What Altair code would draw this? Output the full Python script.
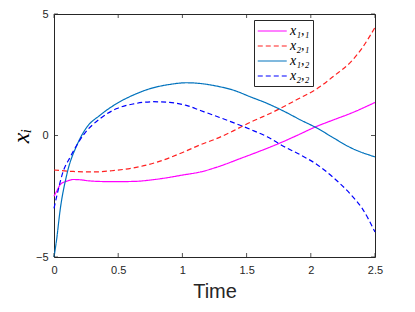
import altair as alt
import pandas as pd

# ---- data ----
series_names = ["x₁,₁", "x₂,₁", "x₁,₂", "x₂,₂"]
series_colors = ["#ff00ff", "#ff2020", "#0072bd", "#0000ff"]
series_dash = [[1, 0], [5, 3], [1, 0], [5, 3]]

t_11 = [0, 0.03, 0.05, 0.1, 0.15, 0.2, 0.28, 0.45, 0.62, 0.8, 1.01, 1.14, 1.27, 1.45, 1.6, 1.76, 1.9, 2.03, 2.18, 2.31, 2.5]
v_11 = [-2.5, -2.2, -2.01, -1.88, -1.81, -1.82, -1.87, -1.9, -1.89, -1.8, -1.62, -1.5, -1.3, -0.95, -0.65, -0.31, 0.02, 0.34, 0.65, 0.91, 1.36]

t_21 = [0, 0.15, 0.31, 0.45, 0.62, 0.8, 1.01, 1.14, 1.27, 1.4, 1.53, 1.66, 1.76, 1.9, 2.05, 2.18, 2.31, 2.4, 2.5]
v_21 = [-1.42, -1.48, -1.5, -1.45, -1.33, -1.1, -0.68, -0.38, -0.12, 0.2, 0.55, 0.85, 1.11, 1.5, 1.93, 2.45, 3.02, 3.6, 4.45]

t_12 = [0, 0.02, 0.047, 0.1, 0.18, 0.25, 0.36, 0.49, 0.62, 0.75, 0.9, 1.03, 1.14, 1.27, 1.4, 1.53, 1.66, 1.79, 1.92, 2.05, 2.18, 2.31, 2.5]
v_12 = [-5, -4.3, -3.1, -1.6, -0.38, 0.3, 0.84, 1.32, 1.67, 1.93, 2.1, 2.17, 2.14, 2.03, 1.86, 1.59, 1.32, 1.0, 0.64, 0.3, -0.11, -0.5, -0.88]

t_22 = [0, 0.03, 0.07, 0.125, 0.23, 0.36, 0.49, 0.62, 0.77, 0.9, 1.03, 1.14, 1.27, 1.46, 1.53, 1.66, 1.79, 1.92, 2.05, 2.18, 2.31, 2.4, 2.5]
v_22 = [-3.0, -2.3, -1.5, -0.9, 0.03, 0.7, 1.11, 1.3, 1.39, 1.36, 1.24, 1.03, 0.78, 0.4, 0.25, -0.05, -0.45, -0.8, -1.2, -1.75, -2.42, -3.0, -3.97]

x_ticks = [0, 0.5, 1, 1.5, 2, 2.5]
y_ticks = [-5, 0, 5]

rows = []
for name, ts, vs in zip(series_names, [t_11, t_21, t_12, t_22], [v_11, v_21, v_12, v_22]):
    for t, v in zip(ts, vs):
        rows.append({"series": name, "t": t, "v": v})
df = pd.DataFrame(rows)

W, H = 321, 243
axis_color = "#262626"

xscale = alt.Scale(domain=[0, 2.5], nice=False, zero=False)
yscale = alt.Scale(domain=[-5, 5], nice=False, zero=False)

x_axis = alt.Axis(values=x_ticks, title="Time", ticks=False, domain=False,
                  labelFont="Liberation Sans", labelFontSize=11, labelColor=axis_color,
                  labelPadding=7, titleFont="Liberation Sans", titleFontSize=20,
                  titleFontWeight="normal", titleColor=axis_color, titlePadding=6,
                  grid=False, labelFlush=False, format="~g")
y_axis = alt.Axis(values=y_ticks, title="xᵢ", ticks=False, domain=False,
                  labelFont="Liberation Sans", labelFontSize=11, labelColor=axis_color,
                  labelPadding=6, titleFont="Liberation Serif", titleFontSize=24,
                  titleFontStyle="italic", titleFontWeight="normal", titleColor="#000000",
                  titlePadding=2, grid=False, labelFlush=False, format="~g")

legend = alt.Legend(orient="none", legendX=200, legendY=6, title=None,
                    symbolType="M-1,0H3", symbolSize=210, symbolStrokeWidth=1.2,
                    labelFont="Liberation Serif", labelFontStyle="italic",
                    labelFontSize=14, labelColor="#000000",
                    strokeColor=axis_color, fillColor="white", padding=3,
                    rowPadding=0, labelOffset=17)

lines = alt.Chart(df).mark_line(strokeWidth=1.2, interpolate="monotone").encode(
    x=alt.X("t:Q", scale=xscale, axis=x_axis, title="Time"),
    y=alt.Y("v:Q", scale=yscale, axis=y_axis, title="xᵢ"),
    color=alt.Color("series:N", scale=alt.Scale(domain=series_names, range=series_colors),
                    sort=series_names, legend=legend),
    strokeDash=alt.StrokeDash("series:N", scale=alt.Scale(domain=series_names, range=series_dash),
                              sort=series_names, legend=legend),
)

xt = pd.DataFrame({"t": x_ticks})
yt = pd.DataFrame({"v": y_ticks})
tick_len = 4
tick_style = dict(color=axis_color, strokeWidth=0.8)

bottom_ticks = alt.Chart(xt).mark_rule(**tick_style).encode(
    x=alt.X("t:Q", scale=xscale, axis=x_axis, title="Time"), y=alt.value(H), y2=alt.value(H - tick_len))
top_ticks = alt.Chart(xt).mark_rule(**tick_style).encode(
    x=alt.X("t:Q", scale=xscale, axis=x_axis, title="Time"), y=alt.value(0), y2=alt.value(tick_len))
left_ticks = alt.Chart(yt).mark_rule(**tick_style).encode(
    y=alt.Y("v:Q", scale=yscale, axis=y_axis, title="xᵢ"), x=alt.value(0), x2=alt.value(tick_len))
right_ticks = alt.Chart(yt).mark_rule(**tick_style).encode(
    y=alt.Y("v:Q", scale=yscale, axis=y_axis, title="xᵢ"), x=alt.value(W), x2=alt.value(W - tick_len))

chart = alt.layer(lines, bottom_ticks, top_ticks, left_ticks, right_ticks).properties(
    width=W, height=H,
    autosize=alt.AutoSizeParams(type="none"),
    padding={"left": 46, "top": 6, "right": 32, "bottom": 47},
    background="white",
).configure_view(stroke=axis_color, strokeWidth=1)

chart.save("out.html", embed_options={"renderer": "svg", "actions": False})
